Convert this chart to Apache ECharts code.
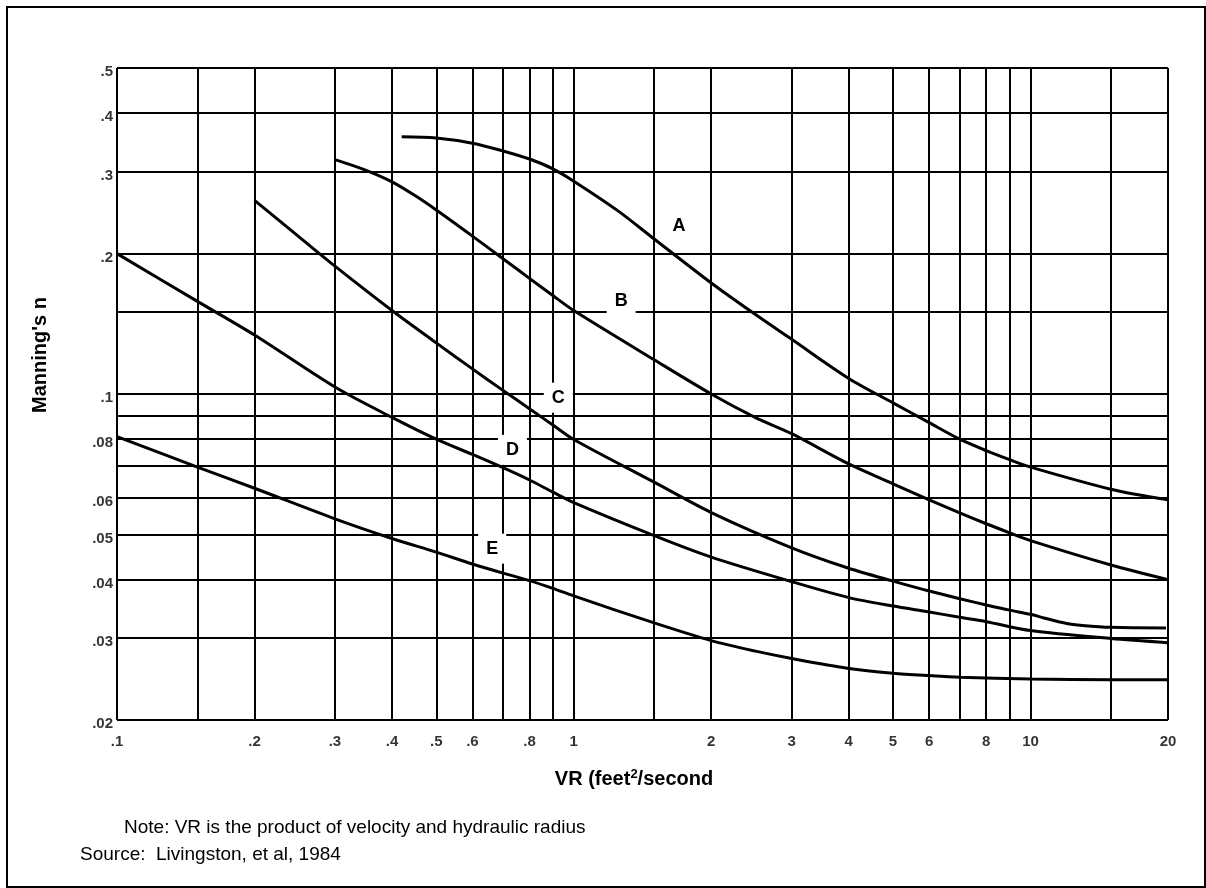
<!DOCTYPE html>
<html>
<head>
<meta charset="utf-8">
<title>Manning's n vs VR</title>
<script src="https://cdn.jsdelivr.net/npm/echarts@6/dist/echarts.min.js"></script>
<style>
html, body { margin: 0; padding: 0; background: #fff; }
#chart { width: 1206px; height: 888px; }
</style>
</head>
<body>
<div id="chart"></div>
<script>
// grid lines of the log-log paper
const xGrid = [0.1, 0.15, 0.2, 0.3, 0.4, 0.5, 0.6, 0.7, 0.8, 0.9, 1, 1.5, 2, 3, 4, 5, 6, 7, 8, 9, 10, 15, 20]
const yGrid = [0.02, 0.03, 0.04, 0.05, 0.06, 0.07, 0.08, 0.09, 0.1, 0.15, 0.2, 0.3, 0.4, 0.5]

// labelled ticks
const xTicks = [0.1, 0.2, 0.3, 0.4, 0.5, 0.6, 0.8, 1, 2, 3, 4, 5, 6, 8, 10, 20]
const yTicks = [0.5, 0.4, 0.3, 0.2, 0.1, 0.08, 0.06, 0.05, 0.04, 0.03, 0.02]

// retardance curves A..E  (VR, n)
const curveA = [[0.42, 0.356], [0.5, 0.354], [0.6, 0.345], [0.7, 0.332], [0.8, 0.319], [0.9, 0.304], [1, 0.286], [1.25, 0.247], [1.5, 0.215], [2, 0.173], [2.5, 0.148], [3, 0.131], [4, 0.108], [5, 0.0957], [6, 0.0868], [7, 0.08], [8, 0.0756], [9, 0.0723], [10, 0.0697], [15, 0.0625], [20, 0.0593]]
const curveB = [[0.3, 0.318], [0.35, 0.302], [0.4, 0.285], [0.45, 0.266], [0.5, 0.248], [0.6, 0.218], [0.7, 0.195], [0.8, 0.177], [0.9, 0.1626], [1, 0.151], [1.5, 0.1184], [2, 0.1], [2.5, 0.089], [3, 0.0822], [4, 0.0708], [5, 0.0642], [6, 0.0593], [7, 0.0556], [8, 0.0527], [9, 0.0504], [10, 0.0485], [15, 0.043], [20, 0.04]]
const curveC = [[0.2, 0.26], [0.25, 0.2175], [0.3, 0.188], [0.4, 0.151], [0.5, 0.1287], [0.6, 0.1132], [0.7, 0.1018], [0.8, 0.093], [0.9, 0.0858], [1, 0.0799], [1.5, 0.0647], [2, 0.0557], [3, 0.0468], [4, 0.0423], [5, 0.0397], [6, 0.0378], [7, 0.0364], [8, 0.0353], [9, 0.0344], [10, 0.0337], [10.7, 0.0331], [12, 0.0322], [13, 0.0319], [15, 0.0316], [19.8, 0.0315]]
const curveD = [[0.1, 0.2], [0.15, 0.158], [0.2, 0.1338], [0.3, 0.1035], [0.4, 0.0891], [0.5, 0.08], [0.6, 0.0742], [0.7, 0.0695], [0.8, 0.0654], [0.9, 0.0616], [1, 0.0585], [1.5, 0.0497], [2, 0.0447], [3, 0.0396], [4, 0.0366], [5, 0.0351], [6, 0.0341], [7, 0.0332], [8, 0.0325], [10, 0.0311], [15, 0.0299], [20, 0.0293]]
const curveE = [[0.1, 0.081], [0.15, 0.0697], [0.2, 0.0628], [0.3, 0.054], [0.4, 0.049], [0.5, 0.0458], [0.6, 0.0432], [0.7, 0.0413], [0.8, 0.0398], [0.9, 0.0383], [1, 0.0369], [1.5, 0.0323], [2, 0.0296], [2.5, 0.0281], [3, 0.0271], [4, 0.0258], [5, 0.0252], [6, 0.0249], [7, 0.0247], [10, 0.0245], [15, 0.0244], [20, 0.0244]]

// curve letters
const curveNames = ['A', 'B', 'C', 'D', 'E']
const curveLabelAt = [[1.7, 0.229], [1.27, 0.1585], [0.925, 0.0982], [0.734, 0.0759], [0.663, 0.0466]]

const FONT = '"Liberation Sans", Arial, sans-serif'
const fmt = (v) => String(v).replace(/^0\./, '.')

const chart = echarts.init(document.getElementById('chart'))

const curveSeries = (data) => ({
  type: 'line',
  data: data,
  smooth: 0.3,
  showSymbol: false,
  silent: true,
  z: 4,
  lineStyle: { color: '#000', width: 3 }
})

const option = {
  animation: false,
  backgroundColor: '#fff',
  grid: { left: 117, right: 38, top: 68, bottom: 168 },
  xAxis: {
    type: 'log',
    logBase: 10,
    min: 0.1,
    max: 20,
    axisLine: { show: false },
    axisTick: { show: false },
    axisLabel: { show: false },
    splitLine: { show: false }
  },
  yAxis: {
    type: 'log',
    logBase: 10,
    min: 0.02,
    max: 0.5,
    axisLine: { show: false },
    axisTick: { show: false },
    axisLabel: { show: false },
    splitLine: { show: false }
  },
  graphic: [
    // outer frame
    {
      type: 'rect',
      shape: { x: 7, y: 7, width: 1198, height: 880 },
      style: { fill: 'none', stroke: '#000', lineWidth: 2 },
      silent: true
    },
    {
      type: 'text',
      x: 40,
      y: 355,
      rotation: Math.PI / 2,
      style: {
        text: "Manning's n",
        font: 'bold 20px ' + FONT,
        fill: '#000',
        align: 'center',
        verticalAlign: 'middle'
      }
    },
    {
      type: 'text',
      x: 634,
      y: 779,
      style: {
        text: 'VR (feet{sup|2}/second',
        font: 'bold 20px ' + FONT,
        fill: '#000',
        align: 'center',
        verticalAlign: 'middle',
        rich: {
          sup: { font: 'bold 13px ' + FONT, verticalAlign: 'top', lineHeight: 22 }
        }
      }
    },
    {
      type: 'text',
      x: 124,
      y: 828,
      style: {
        text: 'Note: VR is the product of velocity and hydraulic radius',
        font: '19px ' + FONT,
        fill: '#000',
        verticalAlign: 'middle'
      }
    },
    {
      type: 'text',
      x: 80,
      y: 855,
      style: {
        text: 'Source:  Livingston, et al, 1984',
        font: '19px ' + FONT,
        fill: '#000',
        verticalAlign: 'middle'
      }
    }
  ],
  series: [
    // grid lines
    {
      type: 'line',
      data: [[0.1, 0.02]],
      showSymbol: false,
      silent: true,
      z: 1,
      lineStyle: { width: 0 },
      markLine: {
        silent: true,
        animation: false,
        z: 1,
        symbol: ['none', 'none'],
        label: { show: false },
        emphasis: { disabled: true },
        lineStyle: { color: '#000', width: 2, type: 'solid' },
        data: xGrid.map((v) => ({ xAxis: v })).concat(yGrid.map((v) => ({ yAxis: v })))
      }
    },
    // x tick labels
    {
      type: 'scatter',
      data: xTicks.map((v) => [v, 0.02]),
      symbolSize: 0,
      silent: true,
      clip: false,
      z: 3,
      label: {
        show: true,
        position: 'bottom',
        distance: 14,
        formatter: (p) => fmt(p.value[0]),
        color: '#000',
        fontFamily: FONT,
        fontWeight: 'bold',
        fontSize: 15
      }
    },
    // y tick labels
    {
      type: 'scatter',
      data: yTicks.map((v) => [0.1, v]),
      symbolSize: 0,
      silent: true,
      clip: false,
      z: 3,
      label: {
        show: true,
        position: 'left',
        distance: 4,
        offset: [0, 4],
        formatter: (p) => fmt(p.value[1]),
        color: '#000',
        fontFamily: FONT,
        fontWeight: 'bold',
        fontSize: 15
      }
    },
    curveSeries(curveA),
    curveSeries(curveB),
    curveSeries(curveC),
    curveSeries(curveD),
    curveSeries(curveE),
    // curve letters, white box breaks the grid lines
    {
      type: 'scatter',
      data: curveLabelAt.map((p, i) => ({ value: p, name: curveNames[i] })),
      symbolSize: 0,
      silent: true,
      clip: false,
      z: 3,
      itemStyle: { opacity: 1 },
      label: {
        show: true,
        position: 'inside',
        formatter: '{b}',
        color: '#000',
        fontFamily: FONT,
        fontWeight: 'bold',
        fontSize: 18,
        backgroundColor: '#fff',
        padding: [6, 8]
      }
    }
  ]
}

chart.setOption(option)
</script>
</body>
</html>
